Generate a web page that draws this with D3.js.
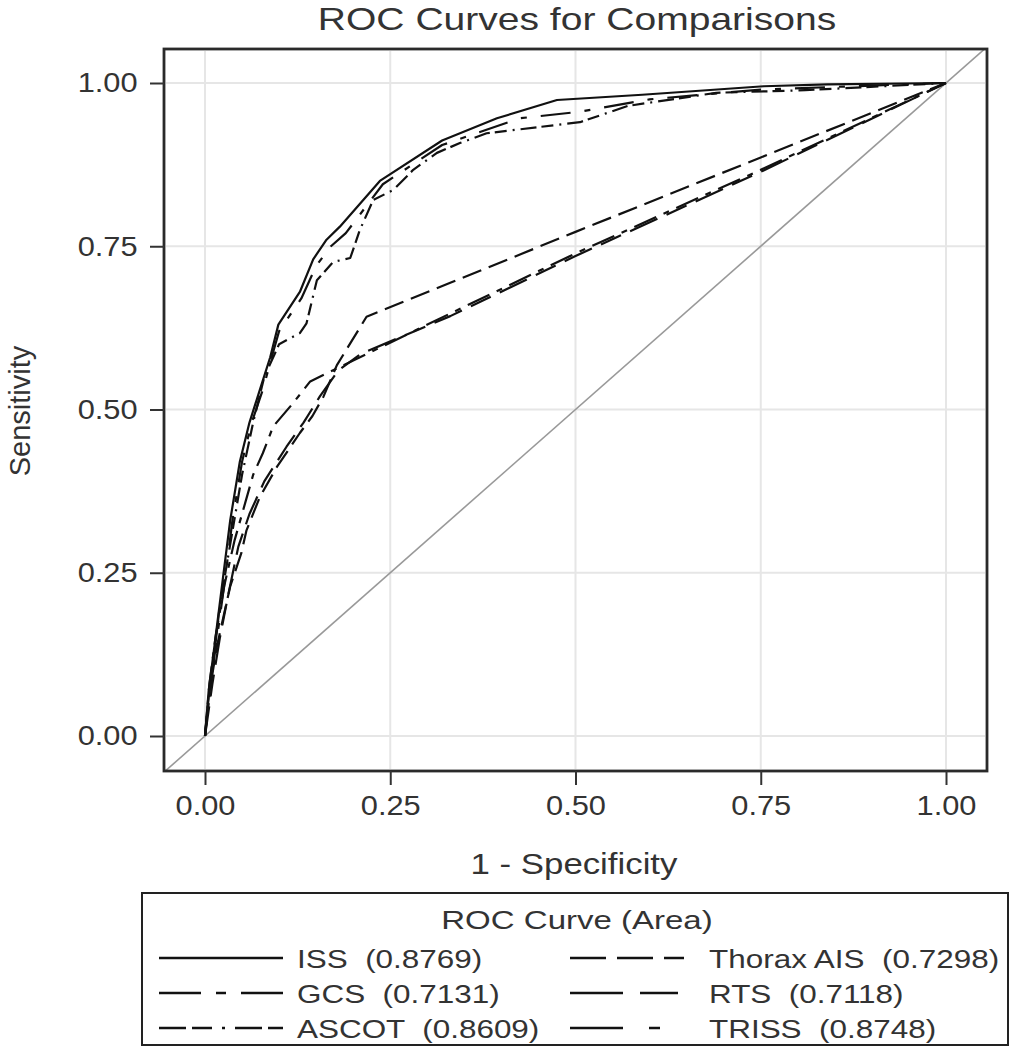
<!DOCTYPE html>
<html>
<head>
<meta charset="utf-8">
<script src="https://cdn.jsdelivr.net/npm/d3@7"></script>
<style>
  html, body { margin: 0; padding: 0; background: #fff; }
  svg { display: block; }
  text { font-family: "Liberation Sans", Arial, sans-serif; fill: #333; white-space: pre; }
</style>
</head>
<body>
<svg id="chart" width="1014" height="1050"></svg>
<script>
// ---------------- data ----------------
const seriesNames = ["ISS", "GCS", "ASCOT", "Thorax AIS", "RTS", "TRISS"];
const seriesAreas = ["0.8769", "0.7131", "0.8609", "0.7298", "0.7118", "0.8748"];
const tickValues = [0, 0.25, 0.5, 0.75, 1];
const tickLabels = ["0.00", "0.25", "0.50", "0.75", "1.00"];

// [1 - specificity, sensitivity]
const issPoints = [[0,0],[0.005,0.07],[0.013,0.14],[0.024,0.24],[0.034,0.33],[0.047,0.42],[0.06,0.48],
  [0.074,0.53],[0.088,0.58],[0.099,0.63],[0.128,0.68],[0.146,0.73],[0.164,0.76],[0.182,0.78],
  [0.236,0.85],[0.32,0.912],[0.394,0.946],[0.475,0.974],[0.59,0.982],[0.754,0.995],[0.84,0.998],[1,1]];
const gcsPoints = [[0,0],[0.006,0.08],[0.014,0.15],[0.026,0.23],[0.04,0.3],[0.055,0.36],[0.065,0.4],
  [0.078,0.433],[0.092,0.474],[0.119,0.51],[0.142,0.543],[0.2,0.575],[0.331,0.647],[0.5,0.739],
  [0.75,0.867],[1,1]];
const ascotPoints = [[0,0],[0.01,0.1],[0.02,0.2],[0.035,0.3],[0.05,0.4],[0.065,0.48],[0.08,0.55],
  [0.1,0.6],[0.128,0.617],[0.137,0.632],[0.151,0.698],[0.173,0.726],[0.196,0.732],[0.209,0.775],
  [0.227,0.821],[0.254,0.836],[0.281,0.867],[0.313,0.893],[0.344,0.908],[0.38,0.923],[0.506,0.94],
  [0.571,0.965],[0.69,0.985],[0.81,0.989],[1,1]];
const thoraxPoints = [[0,0],[0.005,0.06],[0.016,0.137],[0.034,0.229],[0.049,0.28],[0.056,0.315],
  [0.074,0.366],[0.097,0.412],[0.128,0.464],[0.145,0.49],[0.16,0.52],[0.178,0.568],[0.218,0.642],
  [0.331,0.694],[0.5,0.772],[0.75,0.886],[1,1]];
const rtsPoints = [[0,0],[0.01,0.08],[0.02,0.15],[0.032,0.22],[0.045,0.29],[0.06,0.34],[0.08,0.39],
  [0.11,0.443],[0.133,0.48],[0.155,0.52],[0.18,0.56],[0.21,0.585],[0.331,0.643],[0.5,0.735],
  [0.75,0.864],[1,1]];
const trissPoints = [[0,0],[0.006,0.07],[0.015,0.14],[0.027,0.24],[0.037,0.33],[0.05,0.42],[0.063,0.48],
  [0.078,0.53],[0.09,0.58],[0.1,0.62],[0.13,0.67],[0.15,0.72],[0.17,0.75],[0.19,0.77],[0.24,0.845],
  [0.32,0.905],[0.425,0.946],[0.506,0.956],[0.6,0.975],[0.75,0.99],[1,1]];

const seriesPoints = [issPoints, gcsPoints, ascotPoints, thoraxPoints, rtsPoints, trissPoints];

// ---------------- styles ----------------
const plotDash = ["none", "24,8,6,8", "16,5,12,6,2,6", "20,8", "30,10,22,10", "30,14,6,14"];
const legendDash = ["none", "42,15,10,15", "27,6,20,10,3,10", "36,11", "53,17,38,17", "53,26,11,26"];

// ---------------- layout ----------------
const svg = d3.select("#chart");
const frame = {left: 164, top: 49, right: 987, bottom: 771};
const x = d3.scaleLinear().domain([0, 1]).range([205, 946]);
const y = d3.scaleLinear().domain([0, 1]).range([736, 83]);

function stretchedText(g, tx, ty, str, size, sx, anchor) {
  return g.append("text")
    .attr("transform", `translate(${tx},${ty}) scale(${sx},1)`)
    .attr("text-anchor", anchor)
    .attr("font-size", size)
    .text(str);
}

// title
stretchedText(svg, 577, 30, "ROC Curves for Comparisons", 32, 1.22, "middle");

// clip
svg.append("defs").append("clipPath").attr("id", "plotclip")
  .append("rect").attr("x", frame.left).attr("y", frame.top)
  .attr("width", frame.right - frame.left).attr("height", frame.bottom - frame.top);

// gridlines
const grid = svg.append("g");
grid.selectAll("line.gx").data(tickValues).join("line")
  .attr("x1", d => x(d)).attr("x2", d => x(d))
  .attr("y1", frame.top + 2).attr("y2", frame.bottom - 2)
  .attr("stroke", "#e6e6e6").attr("stroke-width", 2);
grid.selectAll("line.gy").data(tickValues).join("line")
  .attr("y1", d => y(d)).attr("y2", d => y(d))
  .attr("x1", frame.left + 2).attr("x2", frame.right - 2)
  .attr("stroke", "#e6e6e6").attr("stroke-width", 2);

// diagonal reference
const plotArea = svg.append("g").attr("clip-path", "url(#plotclip)");
plotArea.append("line")
  .attr("x1", x(-0.2)).attr("y1", y(-0.2)).attr("x2", x(1.2)).attr("y2", y(1.2))
  .attr("stroke", "#999").attr("stroke-width", 1.6);

// curves
const line = d3.line().x(d => x(d[0])).y(d => y(d[1]));
seriesPoints.forEach((pts, i) => {
  plotArea.append("path")
    .attr("d", line(pts))
    .attr("fill", "none")
    .attr("stroke", "#111")
    .attr("stroke-width", 2.2)
    .attr("stroke-dasharray", plotDash[i])
    .attr("stroke-linejoin", "round");
});

// frame
svg.append("rect")
  .attr("x", frame.left).attr("y", frame.top)
  .attr("width", frame.right - frame.left).attr("height", frame.bottom - frame.top)
  .attr("fill", "none").attr("stroke", "#2a2a2a").attr("stroke-width", 2.8);

// axes
const xAxis = d3.axisBottom(x).tickValues(tickValues).tickFormat((d, i) => tickLabels[i])
  .tickSize(14).tickPadding(10);
const gx = svg.append("g").attr("transform", `translate(0,${frame.bottom})`).call(xAxis);
gx.select(".domain").remove();
gx.selectAll(".tick line").attr("stroke", "#333").attr("stroke-width", 2);
gx.selectAll(".tick text").attr("font-size", 28).attr("fill", "#333")
  .attr("font-family", "Liberation Sans, Arial, sans-serif")
  .attr("transform", "scale(1.1,1)");

const yAxis = d3.axisLeft(y).tickValues(tickValues).tickFormat((d, i) => tickLabels[i])
  .tickSize(14).tickPadding(10);
const gy = svg.append("g").attr("transform", `translate(${frame.left},0)`).call(yAxis);
gy.select(".domain").remove();
gy.selectAll(".tick line").attr("stroke", "#333").attr("stroke-width", 2);
gy.selectAll(".tick text").attr("font-size", 28).attr("fill", "#333")
  .attr("font-family", "Liberation Sans, Arial, sans-serif")
  .attr("transform", "scale(1.1,1)");

// axis labels
stretchedText(svg, 574, 874, "1 - Specificity", 29, 1.2, "middle");
svg.append("text")
  .attr("transform", "translate(30,411) rotate(-90)")
  .attr("text-anchor", "middle").attr("font-size", 29)
  .text("Sensitivity");

// legend
const lg = svg.append("g");
lg.append("rect").attr("x", 142).attr("y", 893).attr("width", 866).attr("height", 152)
  .attr("fill", "none").attr("stroke", "#222").attr("stroke-width", 2);
stretchedText(lg, 577, 929, "ROC Curve (Area)", 26, 1.27, "middle");

const legendCols = [{lx1: 159, lx2: 283, tx: 297}, {lx1: 570, lx2: 684, tx: 709}];
const legendRows = [958, 993, 1028];
const legendOrder = [[0, 3], [1, 4], [2, 5]]; // row -> [col0 series, col1 series]
legendOrder.forEach((pair, r) => {
  pair.forEach((si, c) => {
    const col = legendCols[c];
    const cy = legendRows[r];
    lg.append("line").attr("x1", col.lx1).attr("x2", col.lx2).attr("y1", cy).attr("y2", cy)
      .attr("stroke", "#111").attr("stroke-width", 2.4)
      .attr("stroke-dasharray", legendDash[si]);
    stretchedText(lg, col.tx, cy + 10, `${seriesNames[si]}  (${seriesAreas[si]})`, 26, 1.21, "start");
  });
});
</script>
</body>
</html>
